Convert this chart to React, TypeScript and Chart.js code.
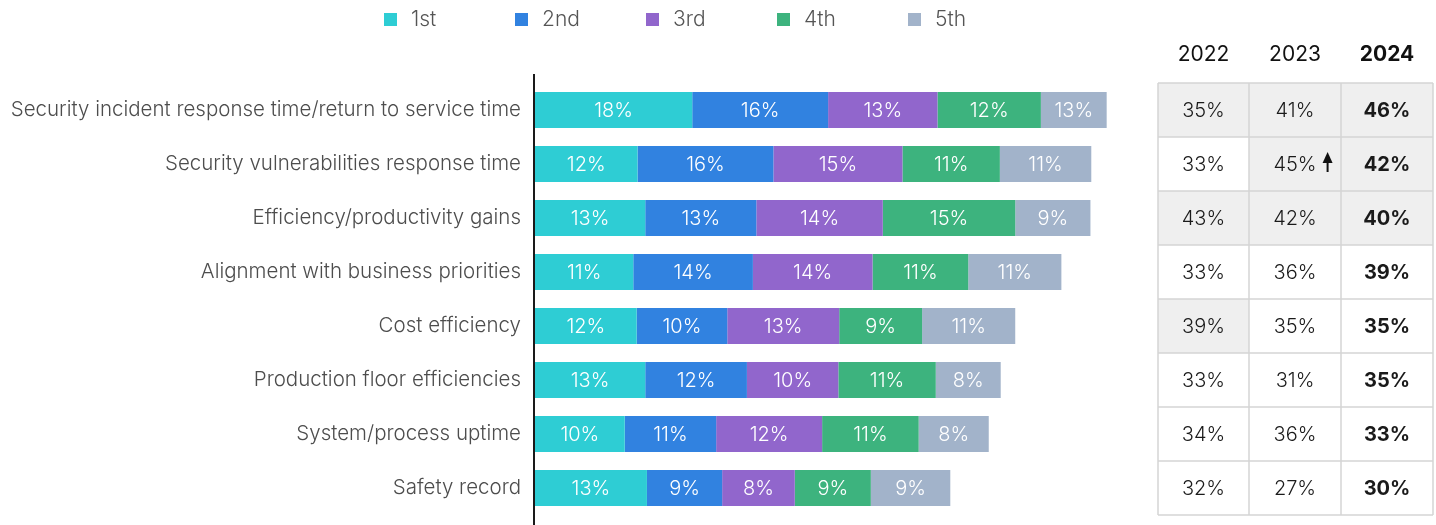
import React, { useEffect, useRef } from 'react';
import { Chart, registerables } from 'chart.js';

Chart.register(...registerables);

const categories = [
  'Security incident response time/return to service time',
  'Security vulnerabilities response time',
  'Efficiency/productivity gains',
  'Alignment with business priorities',
  'Cost efficiency',
  'Production floor efficiencies',
  'System/process uptime',
  'Safety record',
];

const seriesNames = ['1st', '2nd', '3rd', '4th', '5th'];
const seriesColors = ['#2ecdd4', '#3182e0', '#9166cc', '#3db37e', '#a2b3ca'];

// bar lengths (share, %) as drawn
const rank1 = [18.4, 12.0, 12.9, 11.5, 11.9, 12.9, 10.5, 13.1];
const rank2 = [15.9, 15.9, 13.0, 14.0, 10.6, 11.9, 10.7, 8.8];
const rank3 = [12.8, 15.1, 14.8, 14.0, 13.1, 10.7, 12.4, 8.5];
const rank4 = [12.1, 11.4, 15.5, 11.2, 9.7, 11.4, 11.3, 8.9];
const rank5 = [7.7, 10.7, 8.8, 10.9, 10.9, 7.6, 8.2, 9.3];

// printed labels (%)
const rank1Labels = [18, 12, 13, 11, 12, 13, 10, 13];
const rank2Labels = [16, 16, 13, 14, 10, 12, 11, 9];
const rank3Labels = [13, 15, 14, 14, 13, 10, 12, 8];
const rank4Labels = [12, 11, 15, 11, 9, 11, 11, 9];
const rank5Labels = [13, 11, 9, 11, 11, 8, 8, 9];

// table
const years = ['2022', '2023', '2024'];
const y2022 = [35, 33, 43, 33, 39, 33, 34, 32];
const y2023 = [41, 45, 42, 36, 35, 31, 36, 27];
const y2024 = [46, 42, 40, 39, 35, 35, 33, 30];
const risingArrow2023 = [false, true, false, false, false, false, false, false];

const FONT = 'Inter, "Noto Sans", sans-serif';

export default function App() {
  const ref = useRef<HTMLCanvasElement | null>(null);

  useEffect(() => {
    const canvas = ref.current;
    if (!canvas) return;

    const seriesValues = [rank1, rank2, rank3, rank4, rank5];
    const seriesLabels = [rank1Labels, rank2Labels, rank3Labels, rank4Labels, rank5Labels];
    const tableCols = [y2022, y2023, y2024];

    const legendPlugin = {
      id: 'customLegend',
      afterDraw(chart: any) {
        const ctx = chart.ctx;
        ctx.save();
        chart.data.datasets.forEach((ds: any, i: number) => {
          const x0 = 384 + i * 131;
          ctx.fillStyle = ds.backgroundColor;
          ctx.fillRect(x0, 13, 13, 13);
          ctx.fillStyle = '#555555';
          ctx.font = `300 21px ${FONT}`;
          ctx.textAlign = 'left';
          ctx.textBaseline = 'middle';
          ctx.fillText(ds.label, x0 + 27, 20);
        });
        ctx.restore();
      },
    };

    const labelsPlugin = {
      id: 'barLabels',
      afterDatasetsDraw(chart: any) {
        const ctx = chart.ctx;
        ctx.save();
        ctx.font = `300 20px ${FONT}`;
        ctx.fillStyle = '#ffffff';
        ctx.textAlign = 'center';
        ctx.textBaseline = 'middle';
        chart.data.datasets.forEach((ds: any, di: number) => {
          const meta = chart.getDatasetMeta(di);
          meta.data.forEach((el: any, i: number) => {
            const cx = (el.x + el.base) / 2;
            ctx.fillText(`${seriesLabels[di][i]}%`, cx, el.y + 1);
          });
        });
        ctx.restore();
      },
    };

    const axisPlugin = {
      id: 'axisLine',
      afterDraw(chart: any) {
        const ctx = chart.ctx;
        const x = chart.chartArea.left - 1;
        ctx.save();
        ctx.strokeStyle = '#1a1a1a';
        ctx.lineWidth = 2;
        ctx.beginPath();
        ctx.moveTo(x, 74);
        ctx.lineTo(x, 525);
        ctx.stroke();
        ctx.restore();
      },
    };

    const tablePlugin = {
      id: 'sideTable',
      afterDraw(chart: any) {
        const ctx = chart.ctx;
        const ys = chart.scales.y;
        const n = categories.length;
        const half = (chart.chartArea.bottom - chart.chartArea.top) / n / 2;
        const colEdges = [1158, 1249, 1341, 1433];
        ctx.save();
        ctx.textAlign = 'center';
        ctx.textBaseline = 'middle';
        years.forEach((yr, c) => {
          const cx = (colEdges[c] + colEdges[c + 1]) / 2;
          ctx.font = c === 2 ? `700 21px ${FONT}` : `400 21px ${FONT}`;
          ctx.fillStyle = '#111111';
          ctx.fillText(yr, cx, 55);
        });
        tableCols.forEach((col, c) => {
          const sorted = [...col].map((v, i) => ({ v, i })).sort((a, b) => b.v - a.v);
          const top = sorted.slice(0, 3).map((o) => o.i);
          top.forEach((r) => {
            const cy = ys.getPixelForValue(r);
            ctx.fillStyle = '#efefef';
            ctx.fillRect(colEdges[c], cy - half, colEdges[c + 1] - colEdges[c], half * 2);
          });
        });
        ctx.strokeStyle = '#d5d5d5';
        ctx.lineWidth = 1.5;
        const top0 = ys.getPixelForValue(0) - half;
        const bot = ys.getPixelForValue(n - 1) + half;
        for (let r = 0; r <= n; r++) {
          const y = top0 + r * half * 2;
          ctx.beginPath();
          ctx.moveTo(colEdges[0], y);
          ctx.lineTo(colEdges[3], y);
          ctx.stroke();
        }
        colEdges.forEach((x) => {
          ctx.beginPath();
          ctx.moveTo(x, top0);
          ctx.lineTo(x, bot);
          ctx.stroke();
        });
        tableCols.forEach((col, c) => {
          const cx = (colEdges[c] + colEdges[c + 1]) / 2;
          col.forEach((v, r) => {
            const cy = ys.getPixelForValue(r);
            ctx.font = c === 2 ? `700 20px ${FONT}` : `300 20px ${FONT}`;
            ctx.fillStyle = '#1a1a1a';
            ctx.textAlign = 'center';
            ctx.textBaseline = 'middle';
            const txt = `${v}%`;
            ctx.fillText(txt, cx, cy + 1);
            if (c === 1 && risingArrow2023[r]) {
              const w = ctx.measureText(txt).width;
              const ax = cx + w / 2 + 11;
              ctx.fillStyle = '#111111';
              ctx.beginPath();
              ctx.moveTo(ax, cy - 12);
              ctx.lineTo(ax + 5, cy - 1);
              ctx.lineTo(ax - 5, cy - 1);
              ctx.closePath();
              ctx.fill();
              ctx.fillRect(ax - 1, cy - 2, 2, 10);
            }
          });
        });
        ctx.restore();
      },
    };

    const chart = new Chart(canvas, {
      type: 'bar',
      data: {
        labels: categories,
        datasets: seriesNames.map((name, i) => ({
          label: name,
          data: seriesValues[i],
          backgroundColor: seriesColors[i],
          borderWidth: 0,
          barPercentage: 0.667,
          categoryPercentage: 1,
        })),
      },
      options: {
        indexAxis: 'y',
        responsive: false,
        animation: false,
        devicePixelRatio: 1,
        layout: { padding: { left: 0, right: 296, top: 83, bottom: 10 } },
        plugins: {
          legend: { display: false },
          tooltip: { enabled: false },
        },
        scales: {
          x: {
            stacked: true,
            min: 0,
            max: 70.8,
            display: false,
          },
          y: {
            stacked: true,
            grid: { display: false, drawTicks: false },
            border: { display: false },
            ticks: {
              padding: 14,
              color: '#4d4d4d',
              font: { family: FONT, size: 20.5, weight: '300' as any },
            },
            afterFit(scale: any) {
              scale.width = 535;
              scale.paddingTop = 0;
              scale.paddingBottom = 0;
            },
          },
        },
      },
      plugins: [tablePlugin, labelsPlugin, axisPlugin, legendPlugin],
    } as any);

    return () => chart.destroy();
  }, []);

  return (
    <div style={{ position: 'fixed', left: 0, top: 0, width: 1436, height: 525, background: '#ffffff' }}>
      <canvas ref={ref} width={1436} height={525} />
    </div>
  );
}
